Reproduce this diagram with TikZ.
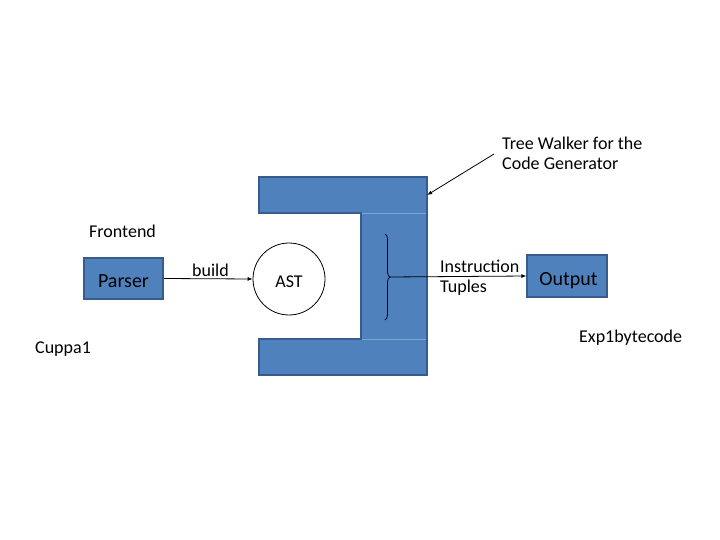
\documentclass[tikz,border=0pt]{standalone}
\usepackage{fontspec}
\setmainfont{Carlito}
\usetikzlibrary{arrows.meta,decorations.pathreplacing}
\definecolor{boxfill}{HTML}{4F81BD}
\definecolor{boxline}{HTML}{385D8A}
\definecolor{seam}{HTML}{7FA3D3}
\begin{document}
\begin{tikzpicture}[x=1pt,y=-1pt,
  bluebox/.style={draw=boxline,line width=1.2pt,fill=boxfill,inner sep=0pt,font=\fontsize{20}{24}\selectfont,text height=18.5pt,text depth=0pt},
  lbl/.style={anchor=base west,inner sep=0pt,font=\fontsize{18}{21.6}\selectfont},
  conn/.style={-{Latex[length=5pt,width=4pt]},line width=0.8pt}]
\useasboundingbox (0,0) rectangle (720,540);
% U-shaped tree walker
\draw[fill=boxfill,draw=boxline,line width=1.2pt]
  (259,177) -- (427,177) -- (427,375) -- (259,375) -- (259,339) -- (361,339)
  -- (361,213) -- (259,213) -- cycle;
\draw[seam,line width=0.6pt] (362,213) -- (426.4,213) (362,339) -- (426.4,339);
\node[inner sep=0pt,minimum width=168pt,minimum height=36pt] (topbar) at (343,195) {};
% brace
\draw[decorate,decoration={brace,amplitude=5pt},draw=black!80!blue,line width=0.8pt]
  (385,234) -- (385,320);
\coordinate (bracetip) at (390,277);
% nodes
\node[bluebox,minimum width=79pt,minimum height=41pt] (parser) at (123.5,278.5) {Parser};
\node[draw=black,line width=0.8pt,circle,minimum size=72pt,inner sep=0pt,font=\fontsize{18}{21.6}\selectfont,text height=16pt,text depth=0pt] (ast) at (289,279) {AST\hspace{10pt}};
\node[bluebox,minimum width=80pt,minimum height=42pt] (output) at (567,276) {\hspace{3pt}Output};
% labels
\node[lbl] (frontend) at (89,237) {Frontend};
\node[lbl] (cuppa) at (35,353) {Cuppa1};
\node[lbl] (exp) at (579,342) {Exp1bytecode};
\node[lbl] (build) at (192,276) {build};
\node[lbl] (instr) at (440,272) {Instruction};
\node[lbl] (tuples) at (440,292) {Tuples};
\node[lbl] (walker1) at (502,150) {Tree Walker for the};
\node[lbl] (walker2) at (502,170) {Code Generator};
% connectors
\draw[conn] (parser.east) -- (ast.west);
\draw[conn] (bracetip) -- (output.west);
\coordinate (walkstart) at (494,154);
\draw[conn] (walkstart) -- (topbar.east);
\end{tikzpicture}
\end{document}
